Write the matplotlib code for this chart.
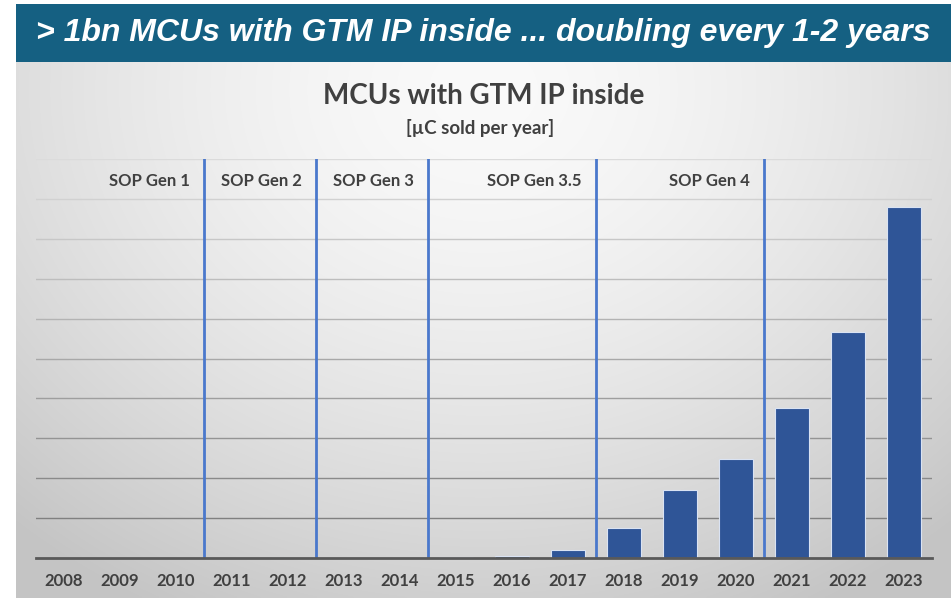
"""MCUs with GTM IP inside, sold per year, with SOP generation markers."""

import matplotlib.pyplot as plt
import numpy as np
from matplotlib.patches import Rectangle


YEARS = [str(y) for y in range(2008, 2024)]
# units sold per year, in gridline steps (approx. 100M units)
MCUS_SOLD = [0.0, 0.0, 0.0, 0.0, 0.0, 0.005, 0.01, 0.02, 0.04, 0.21,
             0.76, 1.70, 2.48, 3.77, 5.67, 8.80]

# first year of each SOP generation, and the generation label before it
GEN_START_YEARS = ['2011', '2013', '2015', '2018', '2021']
GEN_LABELS = ['SOP Gen 1', 'SOP Gen 2', 'SOP Gen 3', 'SOP Gen 3.5', 'SOP Gen 4']

BANNER_TEXT = '> 1bn MCUs with GTM IP inside ... doubling every 1-2 years'
TITLE = 'MCUs with GTM IP inside'
SUBTITLE = '[\u00b5C sold per year]'

_W, _H = 953, 598
_TEXT_COLOR = '#404040'
_BAR_COLOR = '#2f5597'
_LINE_COLOR = '#4a78cc'
_BANNER_COLOR = '#156082'
_FONT = ['Lato', 'DejaVu Sans']
_BANNER_FONT = ['Liberation Sans Narrow', 'Liberation Sans', 'DejaVu Sans']


def _main():
    fig = plt.figure(figsize=(_W / 100, _H / 100), dpi=100)
    _draw_background(fig)
    _draw_chart(fig)
    fig.savefig('out.png', dpi=100)


def _draw_background(fig):
    bg = fig.add_axes([0, 0, 1, 1], zorder=-1)
    bg.set_xlim(0, _W)
    bg.set_ylim(_H, 0)
    bg.axis('off')

    # soft radial gray gradient of the slide panel
    x = np.linspace(0, 1, 300)
    y = np.linspace(0, 1, 200)
    xx, yy = np.meshgrid(x, y)
    r = np.sqrt(((xx - 0.5) / 0.75) ** 2 + ((yy - 0.05) / 1.1) ** 2)
    shade = 0.98 - 0.21 * np.clip(r, 0, 1) ** 1.6
    img = np.dstack([shade, shade, shade])
    bg.imshow(img, extent=(16, 951, _H, 62), aspect='auto',
              interpolation='bilinear')

    bg.add_patch(Rectangle((16, 4), 935, 58, color=_BANNER_COLOR, lw=0))
    bg.text(483.5, 33, BANNER_TEXT, color='white', fontsize=23,
            fontweight='bold', fontstyle='italic', family=_BANNER_FONT,
            ha='center', va='center')

    bg.text(484, 96, TITLE, color=_TEXT_COLOR, fontsize=20,
            fontweight='bold', family=_FONT, ha='center', va='center')
    bg.text(480, 128, SUBTITLE, color=_TEXT_COLOR, fontsize=13.5,
            fontweight='bold', family=_FONT, ha='center', va='center')


def _draw_chart(fig):
    ax = fig.add_axes([36 / _W, 40 / _H, 896 / _W, 399 / _H])
    ax.patch.set_alpha(0)
    x = np.arange(len(YEARS))

    # gridlines darken towards the bottom like in the slide
    for level in range(1, 11):
        t = (level - 1) / 9
        g = 0.50 + 0.36 * t
        ax.axhline(level, color=(g, g, g), lw=1, zorder=0)

    ax.bar(x, MCUS_SOLD, width=0.6, color=_BAR_COLOR,
           edgecolor='#dae3f3', linewidth=0.8, zorder=2)

    for start, label in zip(GEN_START_YEARS, GEN_LABELS):
        pos = YEARS.index(start) - 0.5
        ax.axvline(pos, 0, 1, color=_LINE_COLOR, lw=2, zorder=3)
        ax.text(pos - 0.25, 9.45, label, color=_TEXT_COLOR, fontsize=12,
                fontweight='bold', family=_FONT, ha='right', va='center')

    ax.set_xlim(-0.5, 15.5)
    ax.set_ylim(0, 10)
    ax.set_xticks(x)
    ax.set_xticklabels(YEARS, color=_TEXT_COLOR, fontsize=12,
                       fontweight='bold', family=_FONT)
    ax.tick_params(axis='x', length=0, pad=11)
    ax.set_yticks([])
    for side in ['left', 'right', 'top']:
        ax.spines[side].set_visible(False)
    ax.spines['bottom'].set_color('#595959')
    ax.spines['bottom'].set_linewidth(2)
    ax.spines['bottom'].set_zorder(4)


if __name__ == '__main__':
    _main()
